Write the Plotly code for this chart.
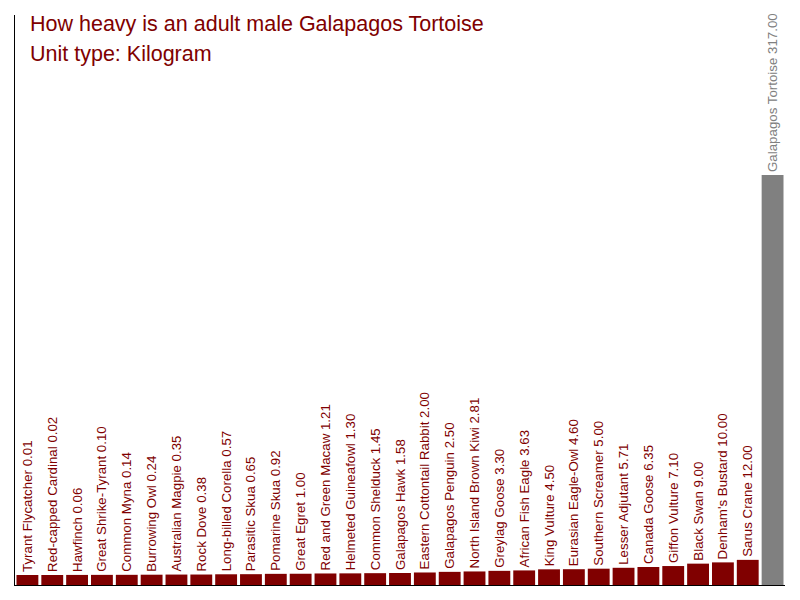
import plotly.graph_objects as go

# animal weights in kilograms, lightest first
animals = [
    "Tyrant Flycatcher", "Red-capped Cardinal", "Hawfinch", "Great Shrike-Tyrant",
    "Common Myna", "Burrowing Owl", "Australian Magpie", "Rock Dove",
    "Long-billed Corella", "Parasitic Skua", "Pomarine Skua", "Great Egret",
    "Red and Green Macaw", "Helmeted Guineafowl", "Common Shelduck", "Galapagos Hawk",
    "Eastern Cottontail Rabbit", "Galapagos Penguin", "North Island Brown Kiwi",
    "Greylag Goose", "African Fish Eagle", "King Vulture", "Eurasian Eagle-Owl",
    "Southern Screamer", "Lesser Adjutant", "Canada Goose", "Giffon Vulture",
    "Black Swan", "Denham's Bustard", "Sarus Crane", "Galapagos Tortoise",
]
weights = [
    0.01, 0.02, 0.06, 0.10, 0.14, 0.24, 0.35, 0.38, 0.57, 0.65, 0.92, 1.00,
    1.21, 1.30, 1.45, 1.58, 2.00, 2.50, 2.81, 3.30, 3.63, 4.50, 4.60, 5.00,
    5.71, 6.35, 7.10, 9.00, 10.00, 12.00, 317.00,
]
highlight = "Galapagos Tortoise"

dark_red = "#800000"
grey = "#808080"

# bars start a little below zero so even the tiniest weights are visible
top = max(weights)
floor = -0.025 * top

colors = [grey if a == highlight else dark_red for a in animals]
labels = [f"{a} {w:.2f}" for a, w in zip(animals, weights)]

fig = go.Figure(go.Bar(
    x=animals,
    y=[w - floor for w in weights],
    base=floor,
    marker=dict(color=colors, line=dict(width=0)),
    text=labels,
    textposition="outside",
    textangle=-90,
    textfont=dict(size=13.3, color=colors, family="Liberation Sans, Arial"),
    constraintext="none",
    cliponaxis=False,
    hoverinfo="skip",
))

# page body has an 8px margin, so the plot area lands at 15..785 x 15..585
fig.update_layout(
    width=800,
    height=600,
    margin=dict(l=7, r=23, t=7, b=23),
    plot_bgcolor="white",
    paper_bgcolor="white",
    bargap=0.12,
    showlegend=False,
    font=dict(family="Liberation Sans, Arial"),
    xaxis=dict(showline=True, linecolor="black", linewidth=1, showticklabels=False,
               ticks="", showgrid=False, zeroline=False, range=[-0.5, len(animals) - 0.5]),
    yaxis=dict(showline=True, linecolor="black", linewidth=1, showticklabels=False,
               ticks="", showgrid=False, zeroline=False, range=[floor, 1.4 * top]),
    annotations=[
        dict(text="How heavy is an adult male Galapagos Tortoise", x=28, y=24,
             xref="paper", yref="paper", showarrow=False, xanchor="left", yanchor="middle",
             font=dict(size=21.5, color=dark_red)),
        dict(text="Unit type: Kilogram", x=28, y=54,
             xref="paper", yref="paper", showarrow=False, xanchor="left", yanchor="middle",
             font=dict(size=21.5, color=dark_red)),
    ],
)

# annotation positions are given in window pixels, convert to paper fractions
for ann in fig.layout.annotations:
    ann.x = (ann.x - 15) / 770
    ann.y = 1 - (ann.y - 15) / 570

fig.write_html("out.html")
